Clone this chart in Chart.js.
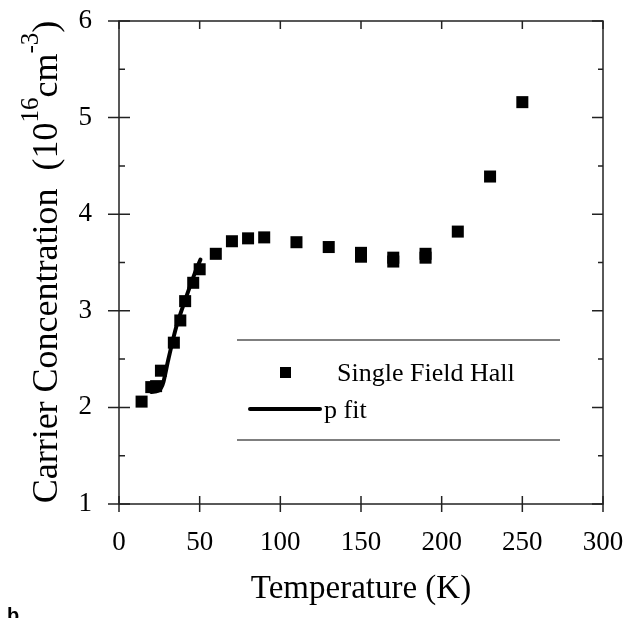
<!DOCTYPE html>
<html>
<head>
<meta charset="utf-8">
<script src="https://cdn.jsdelivr.net/npm/chart.js@4/dist/chart.umd.min.js"></script>
<style>
  html, body { margin: 0; padding: 0; background: #fff; }
  #wrap { width: 636px; height: 618px; }
</style>
</head>
<body>
<div id="wrap"><canvas id="chart" width="636" height="618"></canvas></div>
<script>
'use strict'

// Single field Hall measurement (K, 10^16 cm^-3)
const hallTemp = [14, 20, 23, 26, 34, 38, 41, 46, 50, 60, 70, 80, 90, 110, 130, 150, 150, 170, 170, 190, 190, 210, 230, 250]
const hallConc = [2.06, 2.21, 2.22, 2.38, 2.67, 2.90, 3.10, 3.29, 3.43, 3.59, 3.72, 3.75, 3.76, 3.71, 3.66, 3.56, 3.60, 3.51, 3.55, 3.55, 3.59, 3.82, 4.39, 5.16]

// p fit curve
const fitTemp = [20, 24, 26, 27.5, 30.5, 35.6, 41.8, 47, 50.5]
const fitConc = [2.16, 2.17, 2.2, 2.26, 2.49, 2.84, 3.15, 3.39, 3.53]

const xTicks = [0, 50, 100, 150, 200, 250, 300]
const yTicks = [1, 2, 3, 4, 5, 6]
const yMinorTicks = [1.5, 2.5, 3.5, 4.5, 5.5]

const serif = '"Liberation Serif", "Times New Roman", serif'

const toPoints = (xs, ys) => xs.map((x, i) => ({ x: x, y: ys[i] }))

// frame, crossing ticks, titles and boxed legend
const decor = {
  id: 'decor',
  afterDraw (chart) {
    const ctx = chart.ctx
    const a = chart.chartArea
    const sx = chart.scales.x
    const sy = chart.scales.y
    ctx.save()
    ctx.strokeStyle = '#222'
    ctx.lineWidth = 1.5
    ctx.strokeRect(a.left, a.top, a.right - a.left, a.bottom - a.top)
    ctx.beginPath()
    for (const t of xTicks) {
      const px = sx.getPixelForValue(t)
      ctx.moveTo(px, a.bottom - 8); ctx.lineTo(px, a.bottom + 8)
      ctx.moveTo(px, a.top); ctx.lineTo(px, a.top + 8)
    }
    for (const t of yTicks) {
      const py = sy.getPixelForValue(t)
      ctx.moveTo(a.left - 11, py); ctx.lineTo(a.left + 11, py)
      ctx.moveTo(a.right - 11, py); ctx.lineTo(a.right, py)
    }
    for (const t of yMinorTicks) {
      const py = sy.getPixelForValue(t)
      ctx.moveTo(a.left, py); ctx.lineTo(a.left + 6, py)
      ctx.moveTo(a.right - 5, py); ctx.lineTo(a.right, py)
    }
    ctx.stroke()

    // x title
    ctx.fillStyle = '#000'
    ctx.font = '33px ' + serif
    ctx.textAlign = 'center'
    ctx.textBaseline = 'alphabetic'
    ctx.fillText('Temperature (K)', (a.left + a.right) / 2, 598)

    // y title with superscripts
    const parts = [
      { t: 'Carrier Concentration  (10', s: 36, dy: 0 },
      { t: '16', s: 25, dy: -19 },
      { t: 'cm', s: 36, dy: 0 },
      { t: '-3', s: 25, dy: -19 },
      { t: ')', s: 36, dy: 0 }
    ]
    let total = 0
    for (const p of parts) {
      ctx.font = p.s + 'px ' + serif
      p.w = ctx.measureText(p.t).width
      total += p.w
    }
    ctx.save()
    ctx.translate(57, 262)
    ctx.rotate(-Math.PI / 2)
    ctx.textAlign = 'left'
    let cx = -total / 2
    for (const p of parts) {
      ctx.font = p.s + 'px ' + serif
      ctx.fillText(p.t, cx, p.dy)
      cx += p.w
    }
    ctx.restore()

    // legend box
    ctx.lineWidth = 1.2
    ctx.strokeStyle = '#000'
    ctx.beginPath()
    ctx.moveTo(237, 340); ctx.lineTo(560, 340)
    ctx.moveTo(237, 440); ctx.lineTo(560, 440)
    ctx.stroke()
    ctx.fillRect(280, 367, 11, 11)
    ctx.lineWidth = 4
    ctx.lineCap = 'round'
    ctx.beginPath()
    ctx.moveTo(250, 409); ctx.lineTo(320, 409)
    ctx.stroke()
    ctx.font = '26px ' + serif
    ctx.textAlign = 'left'
    ctx.fillText(chart.data.datasets[0].label, 337, 381)
    ctx.fillText(chart.data.datasets[1].label, 324, 418)

    // panel letter
    ctx.font = 'bold 20px "Liberation Sans", Arial, sans-serif'
    ctx.fillText('b', 7, 622)
    ctx.restore()
  }
}

new Chart(document.getElementById('chart'), {
  type: 'scatter',
  data: {
    datasets: [{
      label: 'Single Field Hall',
      data: toPoints(hallTemp, hallConc),
      pointStyle: 'rect',
      pointRadius: 8.5,
      backgroundColor: '#000',
      borderWidth: 0
    }, {
      label: 'p fit',
      data: toPoints(fitTemp, fitConc),
      showLine: true,
      pointRadius: 0,
      borderColor: '#000',
      borderWidth: 4,
      tension: 0.3,
      borderCapStyle: 'round'
    }]
  },
  options: {
    responsive: false,
    animation: false,
    layout: { padding: { top: 21, right: 33, left: 0, bottom: 0 } },
    plugins: { legend: { display: false }, tooltip: { enabled: false } },
    scales: {
      x: {
        type: 'linear',
        min: 0,
        max: 300,
        afterBuildTicks: (scale) => { scale.ticks = xTicks.map(v => ({ value: v })) },
        afterFit: (scale) => {
          scale.height = 114
          scale.paddingLeft = 0
          scale.paddingRight = 0
        },
        grid: { display: false },
        border: { display: false },
        ticks: { color: '#000', padding: 15, maxRotation: 0, font: { family: serif, size: 27 } }
      },
      y: {
        type: 'linear',
        min: 1,
        max: 6,
        afterBuildTicks: (scale) => { scale.ticks = yTicks.map(v => ({ value: v })) },
        afterFit: (scale) => {
          scale.width = 119
          scale.paddingTop = 0
          scale.paddingBottom = 0
        },
        grid: { display: false },
        border: { display: false },
        ticks: { color: '#000', padding: 19, font: { family: serif, size: 27 } }
      }
    }
  },
  plugins: [decor]
})
</script>
</body>
</html>
